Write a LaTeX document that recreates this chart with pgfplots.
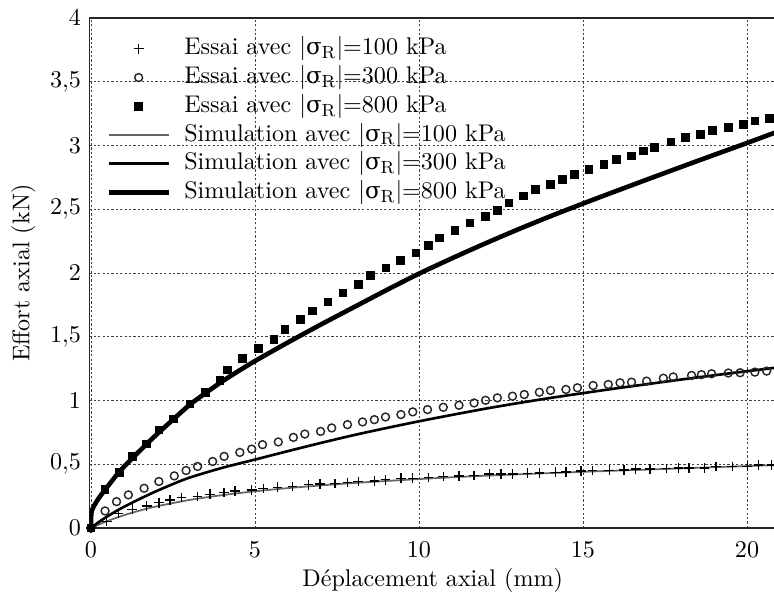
\documentclass[border=0pt,11pt]{standalone}
\usepackage{fontspec}
\usepackage{pgfplots}
\pgfplotsset{compat=1.18}
\newfontfamily\grk{DejaVu Serif}[Scale=0.95]
\newcommand{\sR}{$|\mbox{\grk σ}_{\mathrm{R}}|$}
\begin{document}
\begin{tikzpicture}
\begin{axis}[
  name=ax,
  scale only axis,
  width=312.2pt, height=231.8pt,
  xmin=-0.05, xmax=20.89,
  ymin=0, ymax=4,
  xtick={0,5,10,15,20},
  ytick={0,0.5,1,1.5,2,2.5,3,3.5,4},
  /pgf/number format/.cd, use comma, 1000 sep={},
  /pgfplots/.cd,
  major tick length=0pt,
  grid=major,
  major grid style={black!75, line width=0.4pt, dash pattern=on 1pt off 1pt},
  axis line style={black!85, line width=0.7pt},
  xticklabel style={yshift=-2.5pt},
  xlabel={Déplacement axial (mm)},
  ylabel={Effort axial (kN)},
  xlabel style={at={(rel axis cs:0.5,-0.1139)}, anchor=base},
  ylabel style={at={(rel axis cs:-0.0874,0.5)}, anchor=base, rotate=0},
  legend image code/.code={\draw[mark repeat=2,mark phase=2,#1] plot coordinates {(0pt,0pt) (13.6pt,0pt) (27.3pt,0pt)};},
  legend cell align=left,
  legend style={at={(rel axis cs:0.0243,0.9653)}, anchor=north west, draw=none, fill=none,
    inner sep=0pt, column sep=6pt, row sep=1.55pt,
    nodes={inner sep=0pt, text height=8.5pt, text depth=3pt}},
]
% Essai 100 kPa
\addplot[only marks, mark=+, mark size=2.2pt, black, line width=0.6pt] coordinates {
(0,0)(0.48,0.050)(0.83,0.116)(1.26,0.147)(1.70,0.173)(2.07,0.199)(2.41,0.220)(2.76,0.239)(3.25,0.247)(3.63,0.265)(4.06,0.278)(4.39,0.291)(4.90,0.299)(5.25,0.31)(5.69,0.320)(6.14,0.325)(6.63,0.339)(6.98,0.346)(7.44,0.350)(7.82,0.357)(8.15,0.365)(8.64,0.368)(8.98,0.378)(9.45,0.391)(9.81,0.391)(10.29,0.396)(10.74,0.404)(11.22,0.409)(11.68,0.412)(12.14,0.423)(12.5,0.423)(12.86,0.425)(13.31,0.430)(13.67,0.432)(14.17,0.438)(14.48,0.44)(14.94,0.447)(15.29,0.451)(15.80,0.453)(16.25,0.455)(16.61,0.462)(17.04,0.464)(17.55,0.466)(17.91,0.470)(18.23,0.470)(18.70,0.472)(19.05,0.483)(19.55,0.483)(20.01,0.485)(20.35,0.494)(20.75,0.494)
};
\addlegendentry{Essai avec \sR=100 kPa}
% Essai 300 kPa
\addplot[only marks, mark=o, mark size=1.8pt, black!85, line width=0.65pt] coordinates {
(0,0)(0.43,0.134)(0.78,0.207)(1.14,0.26)(1.62,0.312)(2.07,0.365)(2.54,0.409)(2.90,0.451)(3.25,0.483)(3.71,0.522)(4.06,0.562)(4.54,0.593)(4.90,0.619)(5.23,0.654)(5.71,0.675)(6.17,0.711)(6.52,0.737)(7.00,0.758)(7.34,0.785)(7.82,0.811)(8.28,0.832)(8.64,0.850)(8.98,0.871)(9.45,0.890)(9.81,0.911)(10.26,0.929)(10.74,0.947)(11.22,0.963)(11.68,0.981)(12.03,1.002)(12.39,1.021)(12.85,1.034)(13.21,1.047)(13.67,1.065)(14.01,1.079)(14.48,1.087)(14.83,1.100)(15.31,1.118)(15.77,1.126)(16.13,1.139)(16.48,1.144)(16.94,1.152)(17.45,1.175)(17.75,1.185)(18.31,1.197)(18.61,1.203)(18.92,1.21)(19.43,1.216)(19.79,1.218)(20.24,1.223)(20.60,1.231)
};
\addlegendentry{Essai avec \sR=300 kPa}
% Essai 800 kPa
\addplot[only marks, mark=square*, mark size=1.75pt, black] coordinates {
(0,0)(0.43,0.30)(0.86,0.435)(1.27,0.56)(1.70,0.66)(2.07,0.77)(2.51,0.856)(3.02,0.974)(3.48,1.065)(3.93,1.157)(4.17,1.239)(4.62,1.331)(5.10,1.409)(5.58,1.480)(5.91,1.559)(6.39,1.638)(6.76,1.703)(7.22,1.774)(7.68,1.845)(8.15,1.913)(8.53,1.979)(8.99,2.039)(9.44,2.097)(9.91,2.157)(10.28,2.218)(10.62,2.276)(11.10,2.333)(11.55,2.394)(12.03,2.443)(12.40,2.491)(12.74,2.551)(13.18,2.604)(13.54,2.656)(14.01,2.693)(14.38,2.732)(14.73,2.772)(15.18,2.813)(15.64,2.850)(16.03,2.892)(16.48,2.918)(16.84,2.958)(17.17,2.987)(17.68,3.029)(18.13,3.066)(18.59,3.089)(18.94,3.116)(19.43,3.144)(19.89,3.168)(20.24,3.194)(20.68,3.213)
};
\addlegendentry{Essai avec \sR=800 kPa}
% Simulation 100 kPa
\addplot[mark=none, smooth, black!60, line width=0.8pt] coordinates {
(0,0)(0.5,0.055)(1,0.10)(1.5,0.138)(2,0.17)(3,0.22)(4,0.258)(5,0.288)(6,0.313)(7,0.334)(8,0.353)(9,0.369)(10,0.384)(11,0.398)(12,0.41)(13,0.421)(14,0.431)(15,0.441)(16,0.45)(17,0.459)(18,0.468)(19,0.477)(20,0.486)(20.89,0.494)
};
\addlegendentry{Simulation avec \sR=100 kPa}
% Simulation 300 kPa
\addplot[mark=none, smooth, black, line width=1.2pt] coordinates {
(0,0)(0.33,0.063)(0.83,0.142)(1.5,0.23)(2,0.29)(2.5,0.345)(3,0.395)(4,0.472)(5,0.537)(6,0.603)(7,0.667)(8,0.728)(9,0.784)(10,0.837)(11,0.887)(12,0.935)(13,0.979)(14,1.02)(15,1.058)(16,1.095)(17,1.13)(18,1.165)(19,1.198)(20,1.23)(20.89,1.258)
};
\addlegendentry{Simulation avec \sR=300 kPa}
% Simulation 800 kPa
\addplot[mark=none, smooth, tension=0.4, black, line width=2.1pt] coordinates {
(0,0)(0.02,0.13)(0.2,0.22)(0.43,0.30)(0.86,0.44)(1.27,0.55)(1.7,0.66)(2.07,0.75)(2.5,0.85)(3,0.965)(3.5,1.06)(4,1.15)(4.5,1.232)(5,1.31)(6,1.455)(7,1.595)(8,1.73)(9,1.865)(10,1.995)(11,2.115)(12,2.23)(13,2.34)(14,2.445)(15,2.545)(16,2.642)(17,2.738)(18,2.833)(19,2.927)(20,3.02)(20.89,3.105)
};
\addlegendentry{Simulation avec \sR=800 kPa}
\end{axis}
\pgfresetboundingbox
\path ([xshift=-40.6pt,yshift=-31.4pt]ax.south west) rectangle ([xshift=-1pt,yshift=8.2pt]ax.north east);
\end{tikzpicture}
\end{document}
